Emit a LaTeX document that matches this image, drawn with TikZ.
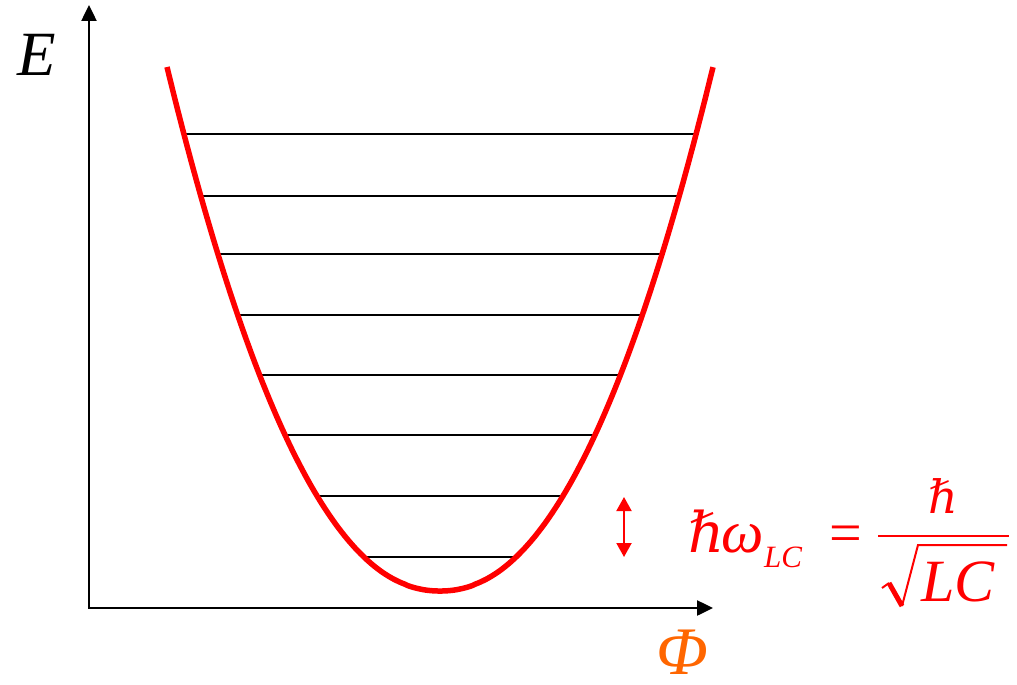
\documentclass[tikz,border=0pt]{standalone}
\usepackage{fontspec}
\setmainfont{Liberation Serif}
\newfontfamily\hbarfont{DejaVu Serif}
\usetikzlibrary{arrows.meta}
\definecolor{curvered}{RGB}{255,0,0}
\definecolor{phiorange}{RGB}{255,102,0}
\tikzset{
  axis/.style={line width=2.5pt, {Triangle[length=16pt,width=15pt]}-{Triangle[length=16pt,width=15pt]}},
  level/.style={line width=2pt, black},
  well/.style={curvered, line width=5.5pt},
  gaparrow/.style={curvered, line width=2pt, {Triangle[length=14pt,width=15pt]}-{Triangle[length=14pt,width=15pt]}},
  lbl/.style={inner sep=0pt, anchor=base},
  redtxt/.style={lbl, text=curvered},
}
\begin{document}
\begin{tikzpicture}[x=1pt,y=-1pt]
\useasboundingbox (0,0) rectangle (1017,685);
% axes
\coordinate (O) at (89,608);
\coordinate (ytip) at (89,5);
\coordinate (xtip) at (713,608);
\draw[axis] (ytip) -- (O) -- (xtip);
% energy levels
\foreach \y in {134,196,254,315,375,435,496,557} {
  \pgfmathsetmacro{\hw}{273*((591-\y)/524)^(1/2.14)}
  \coordinate (l\y) at ({440-\hw},\y);
  \coordinate (r\y) at ({440+\hw},\y);
  \draw[level] (l\y) -- (r\y);
}
% potential well
\draw[well] plot[domain=-273:273, samples=201] ({440+\x},{591-524*((abs(\x)+0.0001)/273)^2.14});
% axis labels
\node[lbl] (E) at (37,75) {\fontsize{63}{63}\selectfont\itshape E};
\node[lbl, text=phiorange] (Phi) at (682,674) {\fontsize{68}{68}\selectfont\itshape Φ};
% level spacing arrow
\coordinate (dtop) at (624,497);
\coordinate (dbot) at (624,557);
\draw[gaparrow] (dtop) -- (dbot);
% formula
\node[redtxt, anchor=base west] (hb) at (688,552) {\fontsize{56}{56}\hbarfont\itshape ℏ};
\node[redtxt, anchor=base west] (om) at (721,552) {\fontsize{60}{60}\selectfont\itshape ω};
\node[redtxt, anchor=base west] (sub) at (764,567) {\fontsize{31}{31}\selectfont\itshape LC};
\node[redtxt] (eq) at (846,552) {\fontsize{58}{58}\selectfont =};
\coordinate (barL) at (878,536);
\coordinate (barR) at (1009,536);
\draw[curvered, line width=2.8pt] (barL) -- (barR);
\node[redtxt] (num) at (943,513) {\fontsize{46}{46}\hbarfont\itshape ℏ};
\coordinate (r1) at (882,588);
\coordinate (r2) at (889,583);
\coordinate (r3) at (902,606);
\coordinate (r4) at (918,545);
\coordinate (r5) at (1007,545);
\draw[curvered, line width=2pt, line join=miter] (r1) -- (r2);
\draw[curvered, line width=5pt] (r2) -- (r3);
\draw[curvered, line width=2pt, line join=miter] (r3) -- (r4) -- (r5);
\node[redtxt, anchor=base west] (LC) at (921,601) {\fontsize{60}{60}\selectfont\itshape LC};
\end{tikzpicture}
\end{document}
